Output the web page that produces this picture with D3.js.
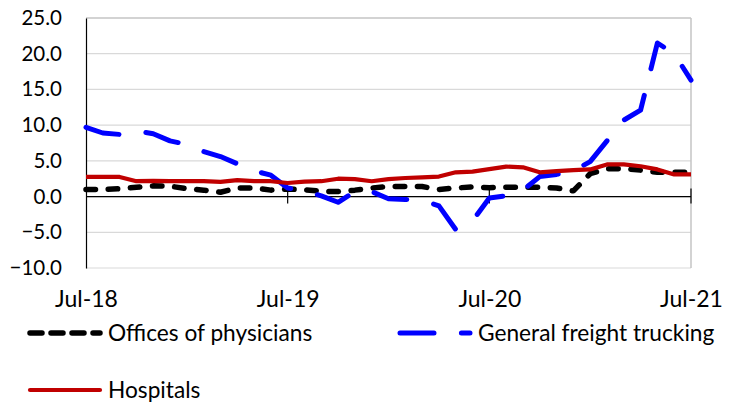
<!DOCTYPE html>
<html>
<head>
<meta charset="utf-8">
<script src="https://cdn.jsdelivr.net/npm/d3@7"></script>
<style>
  html, body { margin: 0; padding: 0; background: #fff; }
  svg { display: block; font-family: Lato, "Open Sans", sans-serif; }
</style>
</head>
<body>
<svg id="chart" width="732" height="406"></svg>
<script>
// Monthly categories, Jul 2018 – Jul 2021
const months = [
  "Jul-18","Aug-18","Sep-18","Oct-18","Nov-18","Dec-18","Jan-19","Feb-19","Mar-19","Apr-19","May-19","Jun-19",
  "Jul-19","Aug-19","Sep-19","Oct-19","Nov-19","Dec-19","Jan-20","Feb-20","Mar-20","Apr-20","May-20","Jun-20",
  "Jul-20","Aug-20","Sep-20","Oct-20","Nov-20","Dec-20","Jan-21","Feb-21","Mar-21","Apr-21","May-21","Jun-21",
  "Jul-21"
];

// Year-over-year change, per cent
const physicians = [
  1.0, 1.0, 1.1, 1.3, 1.5, 1.45, 1.1, 0.9, 0.6, 1.2, 1.2, 0.9,
  1.05, 0.95, 0.75, 0.7, 0.9, 1.2, 1.4, 1.4, 1.4, 1.0, 1.2, 1.35,
  1.25, 1.3, 1.3, 1.3, 1.2, 0.8, 3.2, 3.9, 3.9, 3.7, 3.4, 3.4,
  3.4
];
const trucking = [
  9.7, 8.9, 8.7, 9.2, 8.8, 7.8, 7.3, 6.3, 5.6, 4.6, 3.6, 3.0,
  1.2, 0.8, 0.1, -0.8, 0.7, 0.7, -0.3, -0.4, -0.5, -1.3, -4.6, -3.4,
  -0.2, 0.1, 0.9, 2.8, 3.1, 3.6, 4.9, 7.8, 10.7, 12.1, 21.5, 20.0,
  16.3
];
const hospitals = [
  2.75, 2.75, 2.75, 2.15, 2.2, 2.15, 2.15, 2.15, 2.05, 2.3, 2.15, 2.15,
  1.9, 2.1, 2.15, 2.5, 2.45, 2.15, 2.45, 2.6, 2.7, 2.8, 3.4, 3.5,
  3.85, 4.2, 4.1, 3.4, 3.55, 3.7, 3.8, 4.5, 4.5, 4.25, 3.8, 3.1,
  3.1
];

const yTicks = [-10, -5, 0, 5, 10, 15, 20, 25];
const xTickLabels = ["Jul-18", "Jul-19", "Jul-20", "Jul-21"];

const seriesNames = ["Offices of physicians", "General freight trucking", "Hospitals"];
const seriesColors = ["#000000", "#0000ff", "#c00000"];

const svg = d3.select("#chart");
const plotLeft = 86, plotRight = 691, plotTop = 18, plotBottom = 268;

const x = d3.scaleLinear().domain([0, months.length - 1]).range([plotLeft, plotRight]);
const y = d3.scaleLinear().domain([-10, 25]).range([plotBottom, plotTop]);

// horizontal gridlines
svg.append("g")
  .selectAll("line")
  .data(yTicks)
  .join("line")
  .attr("x1", plotLeft).attr("x2", plotRight)
  .attr("y1", d => y(d)).attr("y2", d => y(d))
  .attr("stroke", d => d === 25 ? "#c4c4c4" : "#d9d9d9")
  .attr("stroke-width", d => d === 25 ? 1.5 : 1.2);

// right border of the plot area
svg.append("line")
  .attr("x1", plotRight).attr("x2", plotRight)
  .attr("y1", plotTop).attr("y2", plotBottom)
  .attr("stroke", "#c4c4c4").attr("stroke-width", 1.5);

// y axis labels
const yAxis = d3.axisLeft(y).tickValues(yTicks).tickFormat(d3.format(".1f")).tickSize(0).tickPadding(24);
const gy = svg.append("g").attr("transform", `translate(${plotLeft},0)`).call(yAxis);
gy.select(".domain").attr("stroke", "#000").attr("stroke-width", 1.2);
gy.selectAll("text").attr("font-size", 20.5).attr("fill", "#000")
  .attr("font-family", "Lato, 'Open Sans', sans-serif");

// zero line with month ticks crossing it
const tickIdx = xTickLabels.map(l => months.indexOf(l));
svg.append("line")
  .attr("x1", plotLeft).attr("x2", plotRight)
  .attr("y1", y(0)).attr("y2", y(0))
  .attr("stroke", "#000").attr("stroke-width", 1.2);
svg.append("g")
  .selectAll("line")
  .data(tickIdx.slice(1))
  .join("line")
  .attr("x1", d => x(d)).attr("x2", d => x(d))
  .attr("y1", y(0) - 8).attr("y2", y(0) + 7)
  .attr("stroke", "#000").attr("stroke-width", 1.2);

// x labels along the bottom
const xAxis = d3.axisBottom(x).tickValues(tickIdx).tickFormat(i => months[i]).tickSize(0).tickPadding(23);
const gx = svg.append("g").attr("transform", `translate(0,${plotBottom})`).call(xAxis);
gx.select(".domain").remove();
gx.selectAll("text").attr("font-size", 23).attr("fill", "#000")
  .attr("font-family", "Lato, 'Open Sans', sans-serif");

// series lines
const line = d3.line().x((d, i) => x(i)).y(d => y(d));
const styles = [
  { width: 5.5, dash: "9.5,12.7" },
  { width: 5, dash: "34,27.4" },
  { width: 4.2, dash: null }
];
[physicians, trucking, hospitals].forEach((vals, k) => {
  svg.append("path")
    .datum(vals)
    .attr("d", line)
    .attr("fill", "none")
    .attr("stroke", seriesColors[k])
    .attr("stroke-width", styles[k].width)
    .attr("stroke-dasharray", styles[k].dash)
    .attr("stroke-linecap", styles[k].dash ? "round" : "butt")
    .attr("stroke-linejoin", "round");
});

// legend
const legendPos = [
  { x: 28, y: 333 },
  { x: 398, y: 333 },
  { x: 28, y: 390 }
];
const legendDash = ["12,9", "34,27.4", null];
const legend = svg.append("g");
seriesNames.forEach((name, k) => {
  const p = legendPos[k];
  legend.append("line")
    .attr("x1", p.x + 2).attr("x2", p.x + 72)
    .attr("y1", p.y).attr("y2", p.y)
    .attr("stroke", seriesColors[k])
    .attr("stroke-width", styles[k].width)
    .attr("stroke-dasharray", legendDash[k])
    .attr("stroke-linecap", "round");
  legend.append("text")
    .attr("x", p.x + 80).attr("y", p.y)
    .attr("dy", "0.35em")
    .attr("font-size", 22.7)
    .attr("fill", "#000")
    .text(name);
});
</script>
</body>
</html>
